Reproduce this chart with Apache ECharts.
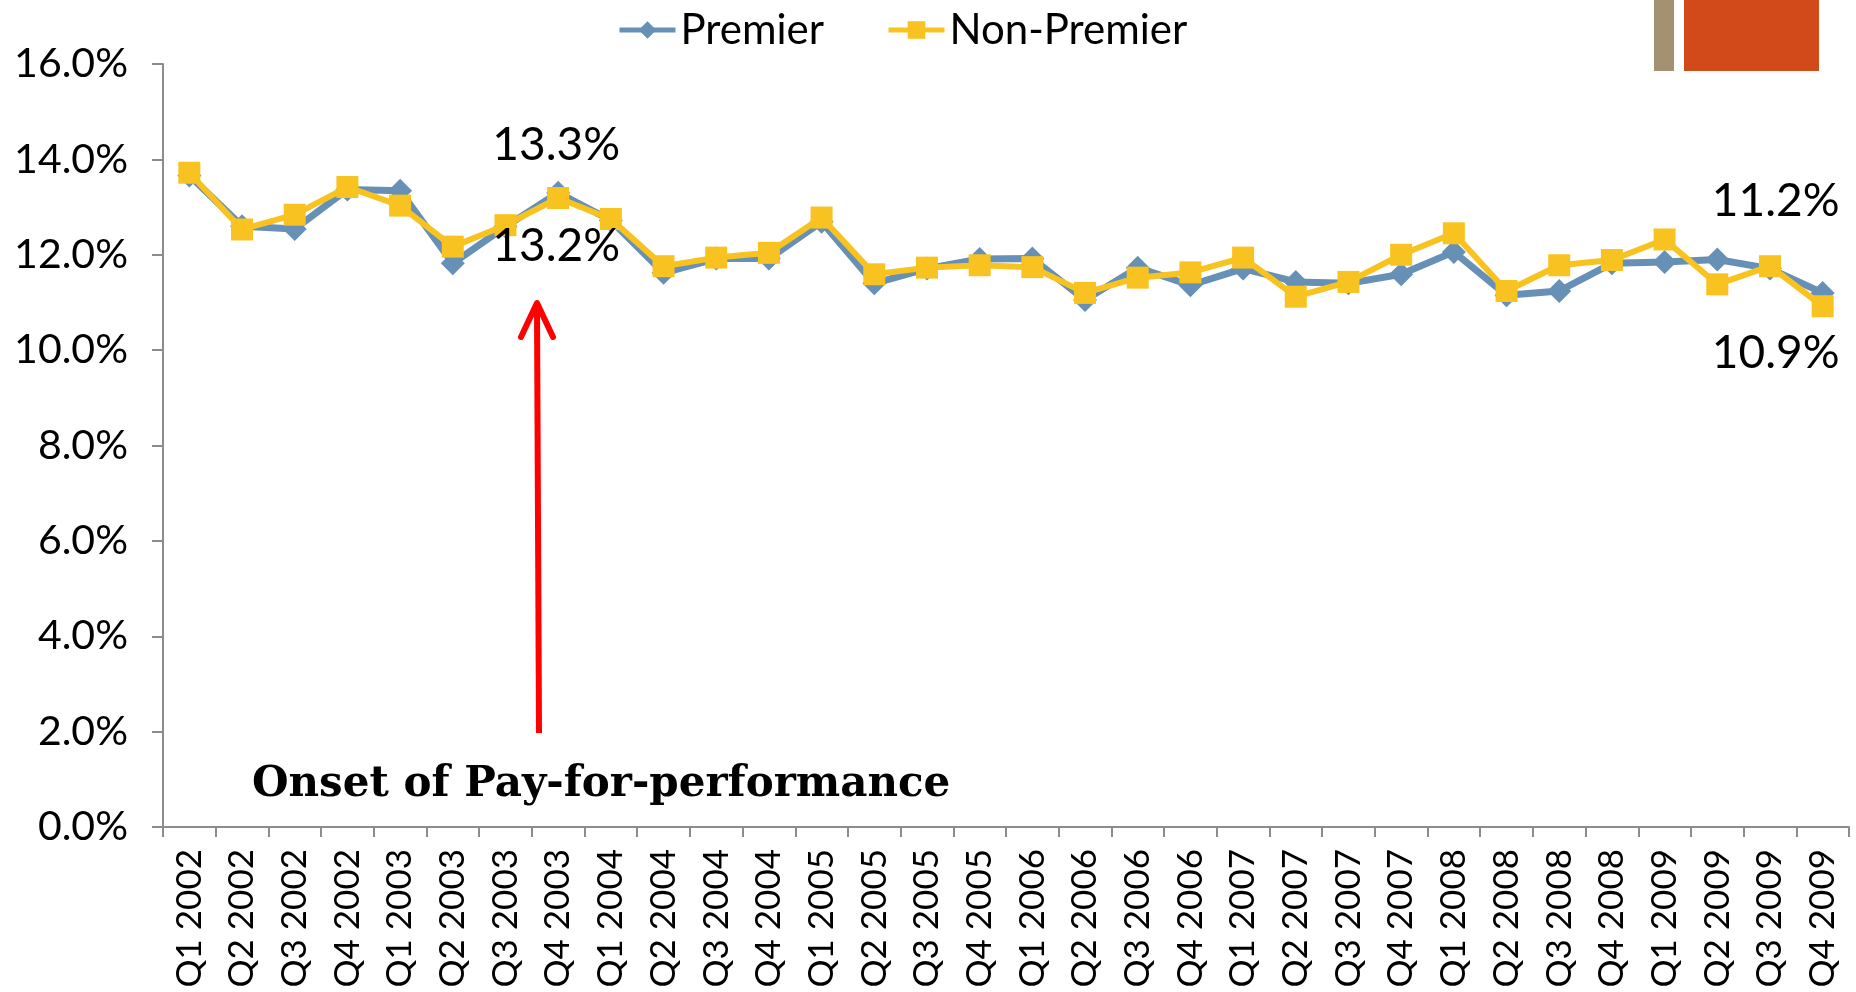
<!DOCTYPE html>
<html><head><meta charset="utf-8">
<script src="https://cdn.jsdelivr.net/npm/echarts@6/dist/echarts.min.js"></script>
<style>html,body{margin:0;padding:0;background:#fff}#c{width:1856px;height:992px}</style>
</head><body><div id="c"></div>
<script>
const categories = ["Q1 2002","Q2 2002","Q3 2002","Q4 2002","Q1 2003","Q2 2003","Q3 2003","Q4 2003",
  "Q1 2004","Q2 2004","Q3 2004","Q4 2004","Q1 2005","Q2 2005","Q3 2005","Q4 2005",
  "Q1 2006","Q2 2006","Q3 2006","Q4 2006","Q1 2007","Q2 2007","Q3 2007","Q4 2007",
  "Q1 2008","Q2 2008","Q3 2008","Q4 2008","Q1 2009","Q2 2009","Q3 2009","Q4 2009"];
const premier = [13.66,12.60,12.54,13.37,13.34,11.82,12.59,13.30,
  12.72,11.62,11.92,11.92,12.69,11.40,11.71,11.91,
  11.92,11.05,11.73,11.36,11.71,11.43,11.40,11.59,
  12.06,11.15,11.24,11.82,11.85,11.90,11.71,11.20];
const nonPremier = [13.72,12.53,12.84,13.42,13.03,12.17,12.62,13.19,
  12.75,11.76,11.94,12.04,12.78,11.59,11.73,11.78,
  11.74,11.20,11.52,11.63,11.94,11.12,11.43,12.00,
  12.45,11.24,11.78,11.89,12.32,11.38,11.76,10.92];
const yTicks = [0,2,4,6,8,10,12,14,16];
const seriesNames = ["Premier","Non-Premier"];
const annotationText = "Onset of Pay-for-performance";

const BLUE = '#6690B5', YEL = '#F8C321';
const FONT = 'Lato';
function labeled(values, idxMap){
  return values.map((v,i)=>{
    if(idxMap[i]){
      return {value:v, label:{show:true, position:'inside', offset:idxMap[i],
        formatter:(p)=>p.value.toFixed(1)+'%', fontSize:46, fontFamily:FONT, color:'#000'}};
    }
    return v;
  });
}
const chart = echarts.init(document.getElementById('c'));
chart.setOption({
  animation:false,
  backgroundColor:'#fff',
  grid:{left:163, right:7, top:64, bottom:165, containLabel:false, outerBoundsMode:'none'},
  legend:{top:4, left:612, itemWidth:56, itemHeight:22, itemGap:62,
    lineStyle:{width:5},
    textStyle:{fontSize:42, fontFamily:FONT, color:'#000'}, data:seriesNames},
  xAxis:{type:'category', data:categories, boundaryGap:true,
    axisLine:{lineStyle:{color:'#8c8c8c', width:2}},
    axisTick:{show:true, length:10, alignWithLabel:false, lineStyle:{color:'#8c8c8c', width:2}},
    axisLabel:{rotate:90, margin:22, fontSize:35, fontFamily:FONT, color:'#000', interval:0}},
  yAxis:{type:'value', min:yTicks[0], max:yTicks[yTicks.length-1], interval:2,
    axisLine:{show:true, lineStyle:{color:'#8c8c8c', width:2}},
    axisTick:{show:true, length:11, lineStyle:{color:'#8c8c8c', width:2}},
    splitLine:{show:false},
    axisLabel:{margin:35, fontSize:41, fontFamily:FONT, color:'#000', formatter:(v)=>v.toFixed(1)+'%'}},
  series:[
    {name:seriesNames[0], type:'line', data:labeled(premier,{7:[-2,-48],31:[-47,-92]}),
      symbol:'diamond', symbolSize:24, lineStyle:{color:BLUE, width:7}, itemStyle:{color:BLUE}, z:2},
    {name:seriesNames[1], type:'line', data:labeled(nonPremier,{7:[-2,48],31:[-47,47]}),
      symbol:'rect', symbolSize:22, lineStyle:{color:YEL, width:6}, itemStyle:{color:YEL}, z:3}
  ],
  graphic:[
    {type:'rect', shape:{x:1654, y:0, width:20, height:71}, style:{fill:'#A39171'}},
    {type:'rect', shape:{x:1684, y:0, width:135, height:71}, style:{fill:'#D34A1A'}},
    {type:'line', shape:{x1:539, y1:733, x2:537, y2:310}, style:{stroke:'#FF0000', lineWidth:6}},
    {type:'polyline', shape:{points:[[521,337],[537,303],[553,337]]}, style:{stroke:'#FF0000', lineWidth:6, lineCap:'round', lineJoin:'round', fill:null}},
    {type:'text', left:252, top:764, style:{text:annotationText, font:'bold 42px "DejaVu Serif"', fill:'#000'}}
  ]
});
</script></body></html>
